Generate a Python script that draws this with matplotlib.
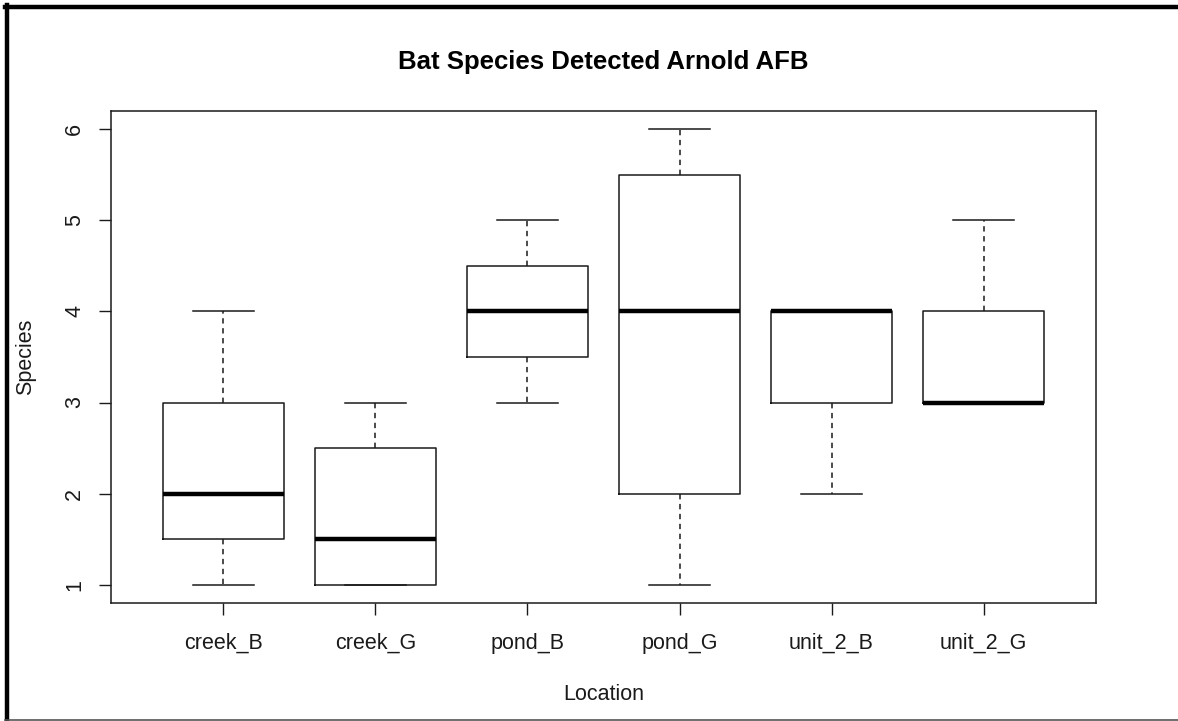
import matplotlib
matplotlib.use("Agg")
import matplotlib.pyplot as plt
from matplotlib.lines import Line2D

plt.rcParams['font.family'] = ['Liberation Sans', 'DejaVu Sans']

locations = ['creek_B', 'creek_G', 'pond_B', 'pond_G', 'unit_2_B', 'unit_2_G']
whisk_lo = [1, 1, 3, 1, 2, 3]
q1 = [1.5, 1, 3.5, 2, 3, 3]
medians = [2, 1.5, 4, 4, 4, 3]
q3 = [3, 2.5, 4.5, 5.5, 4, 4]
whisk_hi = [4, 3, 5, 6, 4, 5]
y_ticks = [1, 2, 3, 4, 5, 6]

stats = []
for name, lo, a, m, b, hi in zip(locations, whisk_lo, q1, medians, q3, whisk_hi):
    stats.append({'label': name, 'whislo': lo, 'q1': a, 'med': m, 'q3': b,
                  'whishi': hi, 'fliers': []})

W, H = 1178, 721
ink = '#1a1a1a'
fig = plt.figure(figsize=(W / 100, H / 100), dpi=100)
ax = fig.add_axes([111 / W, (H - 603) / H, (1096 - 111) / W, (603 - 111) / H])

ax.bxp(stats, positions=range(1, 7), widths=0.8, showfliers=False,
       boxprops=dict(color=ink, linewidth=1.1),
       whiskerprops=dict(color=ink, linewidth=1.1, linestyle=(0, (3.5, 3))),
       capprops=dict(color=ink, linewidth=1.1),
       medianprops=dict(color='black', linewidth=3.2, solid_capstyle='butt'),
       capwidths=0.4)

ax.set_xlim(0.26, 6.74)
ax.set_ylim(0.8, 6.2)
ax.set_yticks(y_ticks)
ax.set_yticklabels([str(v) for v in y_ticks], rotation=90, va='center')
ax.tick_params(direction='out', length=8.5, width=1, labelsize=15.5,
               color=ink, labelcolor=ink)
ax.tick_params(axis='x', pad=13)
ax.tick_params(axis='y', pad=10)
for s in ax.spines.values():
    s.set_linewidth(1.1)
    s.set_color(ink)

ax.set_xlabel('Location', fontsize=15.5, labelpad=22, color=ink)
ax.set_ylabel('Species', fontsize=15.5, labelpad=20, color=ink)
ax.set_title('Bat Species Detected Arnold AFB', fontsize=18.5, fontweight='bold',
             pad=30, color='black')

# outer frame
fig.add_artist(Line2D([5 / W, 1], [1 - 7 / H, 1 - 7 / H], transform=fig.transFigure,
                      color='black', linewidth=3.2))
fig.add_artist(Line2D([7 / W, 7 / W], [1 - 5 / H, 0], transform=fig.transFigure,
                      color='black', linewidth=3.2))
fig.add_artist(Line2D([5 / W, 1], [1.5 / H, 1.5 / H], transform=fig.transFigure,
                      color='#555555', linewidth=1.2))

fig.savefig('out.png', dpi=100)
